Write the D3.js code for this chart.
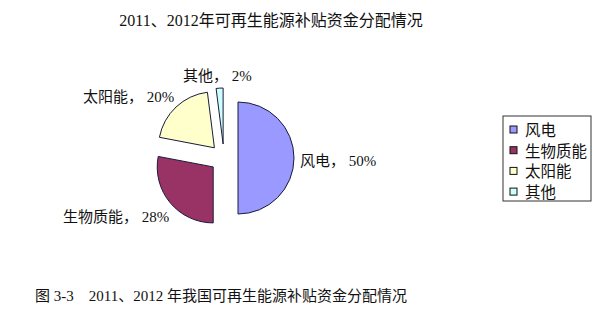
<!DOCTYPE html>
<html>
<head>
<meta charset="utf-8">
<script src="https://cdn.jsdelivr.net/npm/d3@7"></script>
<style>
  body { margin: 0; background: #fff; }
  svg text { font-family: "Liberation Serif", "Noto Sans CJK SC", serif; fill: #111; }
</style>
</head>
<body>
<script>
// data
var categories = ['风电', '生物质能', '太阳能', '其他'];
var shares = [50, 28, 20, 2];
var colors = ['#9999ff', '#993366', '#ffffcc', '#ccffff'];
var chartTitle = '2011、2012年可再生能源补贴资金分配情况';
var caption = '图 3-3\u00a0\u00a0\u00a0 2011、2012 年我国可再生能源补贴资金分配情况';

var width = 600, height = 328;
var svg = d3.select('body').append('svg').attr('width', width).attr('height', height);

svg.append('text')
  .attr('x', 271).attr('y', 26)
  .attr('text-anchor', 'middle')
  .style('font-size', '16px')
  .text(chartTitle);

// pie
var cx = 224, cy = 158, r = 56, explode = 14;
var pie = d3.pie().sort(null).value(function(d) { return d; });
var arc = d3.arc().innerRadius(0).outerRadius(r);
var arcs = pie(shares);

var g = svg.append('g').attr('transform', 'translate(' + cx + ',' + cy + ')');

function offset(d) {
  var a = (d.startAngle + d.endAngle) / 2;
  return [Math.sin(a) * explode, -Math.cos(a) * explode];
}

g.selectAll('path')
  .data(arcs)
  .enter()
  .append('path')
  .attr('d', arc)
  .attr('transform', function(d) {
    var o = offset(d);
    return 'translate(' + o[0] + ',' + o[1] + ')';
  })
  .attr('fill', function(d, i) { return colors[i]; })
  .attr('stroke', '#1a1a3a')
  .attr('stroke-width', 1);

// data labels, placed outside each slice (relative to pie centre)
var labelPos = [
  { dx: 76, dy: 8 },
  { dx: -161, dy: 64 },
  { dx: -141, dy: -56 },
  { dx: -41, dy: -77 }
];

g.selectAll('text.lbl')
  .data(arcs)
  .enter()
  .append('text')
  .attr('class', 'lbl')
  .attr('x', function(d, i) { return labelPos[i].dx; })
  .attr('y', function(d, i) { return labelPos[i].dy; })
  .style('font-size', '15px')
  .text(function(d, i) { return categories[i] + '，\u00a0' + shares[i] + '%'; });

// legend
var legend = svg.append('g').attr('transform', 'translate(503,116)');
legend.append('rect')
  .attr('width', 88).attr('height', 85)
  .attr('fill', '#fff')
  .attr('stroke', '#333')
  .attr('stroke-width', 1);

var items = legend.selectAll('g.item')
  .data(categories)
  .enter()
  .append('g')
  .attr('class', 'item')
  .attr('transform', function(d, i) { return 'translate(7,' + (14 + i * 20.7) + ')'; });

items.append('rect')
  .attr('x', 0).attr('y', -4)
  .attr('width', 7).attr('height', 7)
  .attr('fill', function(d, i) { return colors[i]; })
  .attr('stroke', '#111');

items.append('text')
  .attr('x', 15).attr('y', 6)
  .style('font-size', '15.5px')
  .text(function(d) { return d; });

svg.append('text')
  .attr('x', 35).attr('y', 301)
  .style('font-size', '15px')
  .text(caption);
</script>
</body>
</html>
